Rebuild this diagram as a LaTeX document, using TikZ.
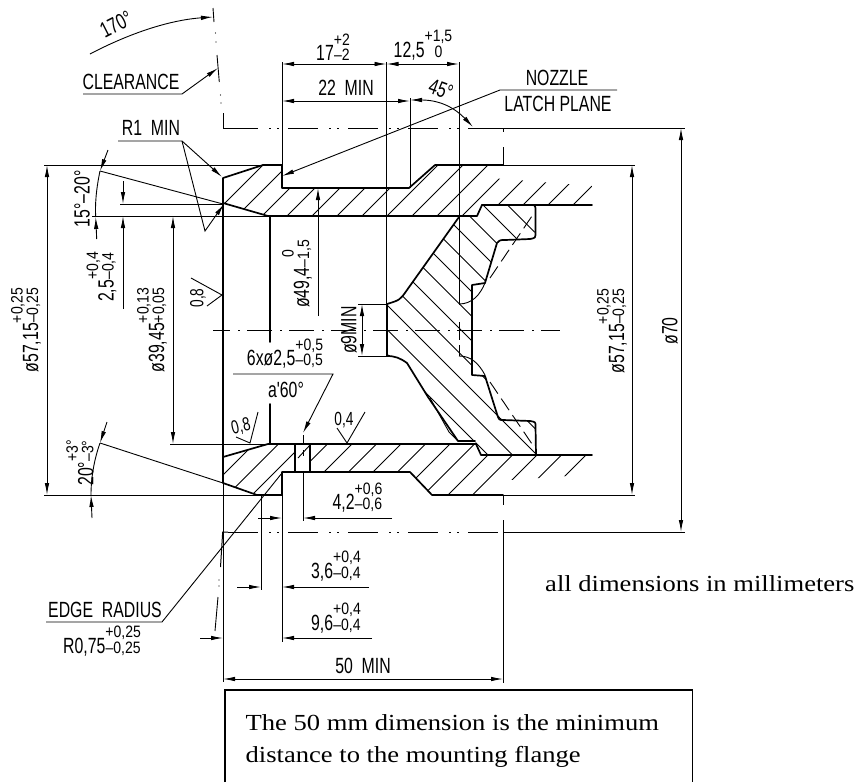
\documentclass[tikz,border=0pt]{standalone}
\usepackage{fontspec}
\usetikzlibrary{arrows.meta, calc}
\newfontfamily\dimfont[FakeStretch=0.72]{Liberation Sans}
\newfontfamily\tolfont[FakeStretch=0.85]{Liberation Sans}
\newfontfamily\notefont[FakeStretch=1.155]{Liberation Serif}
\newcommand{\tolsize}{\tolfont\fontsize{16.5}{15.5}\selectfont}
\newcommand{\tolval}[3]{#1\vbox{\tolsize\lineskiplimit=-20pt\baselineskip=15.5pt\halign{\hfil##\hfil\cr#2\cr#3\cr}}}
\tikzset{
	outline/.style={line width=1.7pt, line cap=round, line join=round},
	thinline/.style={line width=0.9pt},
	hatchline/.style={line width=0.9pt},
	dimline/.style={thinline, {Latex[length=12pt,width=4.5pt]}-{Latex[length=12pt,width=4.5pt]}},
	dimarrow/.style={thinline, -{Latex[length=12pt,width=4.5pt]}},
	phantomline/.style={line width=1pt, dash pattern=on 30pt off 11pt on 1.5pt off 6.5pt on 1.5pt off 9.5pt},
	axisline/.style={line width=0.9pt, dash pattern=on 25pt off 8pt on 2pt off 7pt},
	hiddenline/.style={line width=0.9pt, dash pattern=on 14pt off 6pt},
	dimlabel/.style={inner sep=0pt, font=\dimfont\fontsize{22}{24}\selectfont},
	roughlabel/.style={inner sep=0pt, font=\dimfont\fontsize{19}{20}\selectfont},
	notelabel/.style={inner sep=0pt, anchor=base west, font=\notefont\fontsize{23}{25}\selectfont}
}
\begin{document}
\begin{tikzpicture}[x=1pt, y=-1pt]
	\useasboundingbox (0,0) rectangle (859,782);

	% hatching of the outer wall
	\begin{scope}
		\clip (223,178) -- (263,165) -- (282,165) -- (282,188) -- (409,188) -- (435,165) -- (490,165) -- (492,178) -- (592,186) -- (592,205) -- (482,205) -- (477,216) -- (268,216) -- (223,203) -- cycle;
		\foreach \s in {428,453,...,778}{
			\draw[hatchline] (\s-100,100) -- (\s-260,260);
		}
	\end{scope}
	\begin{scope}
		\clip (223,457) -- (268,444) -- (295,444) -- (295,472) -- (282,472) -- (282,495) -- (257,495) -- (223,483) -- cycle;
		\foreach \s in {698,722.5,747}{
			\draw[hatchline] (\s-420,420) -- (\s-520,520);
		}
	\end{scope}
	\begin{scope}
		\clip (310,444) -- (476,444) -- (481,455) -- (592,455) -- (568,476) -- (495,481) -- (490,495) -- (432,495) -- (410,472) -- (310,472) -- cycle;
		\foreach \s in {771.5,796,820.5,845,869.5,894,918.5,943,967.5,992,1016.5,1041}{
			\draw[hatchline] (\s-420,420) -- (\s-520,520);
		}
	\end{scope}
	\draw[hatchline] (310,445) -- (298,458);
	% hatching of the inner part
	\begin{scope}
		\clip (482,205) -- (535,205) -- (535,232) -- (530,239) -- (505,240) -- (497,243) -- (485,283) -- (472,285) -- (472,375) -- (485,376) -- (497,414) -- (503,420) -- (530,421) -- (535,425) -- (536,455) -- (481,455) -- (475,441) -- (458,441) -- (428,397) -- (407,363) -- (398,357) -- (387,356) -- (387,304) -- (398,302) -- (407,290) -- (459,217) -- (477,217) -- cycle;
		\foreach \c in {-33,-57.5,-82,-106.5,-131,-155.5,-180,-204.5,-229,-253.5,-278,-302.5}{
			\draw[hatchline] (380,380+\c) -- (560,560+\c);
		}
	\end{scope}

	% outlines
	\draw[outline] (223,203) -- (268,216) -- (477,216) -- (482,205) -- (592,205);
	\draw[outline] (263,165) -- (223,178) -- (223,483) -- (257,495) -- (282,495) -- (282,472) -- (410,472) -- (432,495) -- (503,495);
	\draw[outline] (263,165) -- (282,165) -- (282,188) -- (409,188) -- (435,165) -- (503,165);
	\draw[outline] (223,457) -- (268,444) -- (476,444) -- (481,455) -- (592,455);
	\draw[outline] (295,444) -- (295,472) (310,444) -- (310,472);
	\draw[outline] (270,216) -- (270,342) (270,404) -- (270,444);
	\draw[outline] (459,217) -- (407,290) .. controls (400,300) .. (387,304) -- (387,356) .. controls (395,356) and (400,358) .. (407,363) -- (428,397) -- (458,441) -- (475,441);
	\draw[outline] (482,205) -- (532,205) .. controls (535,205) .. (535.5,208) -- (535.5,232) .. controls (535.5,238) .. (530,239) -- (505,240) .. controls (500,240) .. (497,243) -- (485,283) -- (472,285) -- (472,375) -- (485,376) -- (497,414) .. controls (499,420) .. (503,420) -- (530,421) .. controls (535.5,422) .. (535.5,426) -- (536,455);
	\draw[thinline] (430,398) -- (449,432) -- (458,441);
	\draw[thinline] (459,304) .. controls (472,304) and (480,295) .. (485,283);
	\draw[thinline] (459,356) .. controls (470,356) and (478,362) .. (485,375);
	\draw[hiddenline] (490,278) -- (532,216);
	\draw[hiddenline] (490,382) -- (532,444);

	% center lines
	\draw[axisline, dash phase=8pt] (213,330) -- (560,330);
	\draw[phantomline] (228,128) -- (473,128);
	\draw[phantomline] (228,532) -- (503,532);
	\draw[line width=1pt] (223,113) -- (223,128) -- (228,128);
	\draw[line width=1pt] (228,532) -- (222.7,532) -- (220.5,567);
	\draw[thinline] (213,8) -- (214,22) (217,55) -- (219.3,82) (218,597) -- (215,631);
	\foreach \y/\x in {33/215.5, 42/216, 95/220.5, 103/221, 580/219, 586/219}{
		\fill (\x,\y) circle[radius=0.6];
	}

	% extension lines
	\draw[thinline] (44,165) -- (282,165) (44,495) -- (282,495);
	\draw[thinline] (92,216) -- (268,216) (120,204) -- (223,204) (170,444) -- (268,444);
	\draw[thinline] (503,165) -- (635,165) (503,495) -- (635,495);
	\draw[thinline] (473,128) -- (685,128) (503,532) -- (685,532);
	\draw[thinline] (282,62) -- (282,165) (386.5,62) -- (386.5,304) (459,62) -- (459,305);
	\draw[thinline] (459,322) -- (459,340) (459,345) -- (459,356);
	\draw[thinline] (410,98) -- (410,188);
	\draw[thinline] (503,128) -- (503,132) (503,147) -- (503,165);
	\draw[thinline] (503,495) -- (503,505) (503,520) -- (503,683);
	\draw[thinline] (223,483) -- (223,682);
	\draw[thinline] (261,495) -- (261,590) (282,495) -- (282,642);
	\draw[thinline] (303,435) -- (303,445) (303,450) -- (303,456) (303,472) -- (303,521);
	\draw[thinline] (358,304) -- (387,304) (358,356) -- (387,356);

	% dimension lines
	\draw[dimline] (47,165) -- (47,495);
	\draw[dimline] (173,216) -- (173,444);
	\draw[dimline] (632,165) -- (632,495);
	\draw[dimline] (681,128) -- (681,532);
	\draw[dimline] (362,304) -- (362,356);
	\draw[dimline] (282,64) -- (386.5,64);
	\draw[dimline] (386.5,64) -- (459,64);
	\draw[dimline] (282,101) -- (410,101);
	\draw[dimline] (223,679) -- (503,679);
	\draw[dimarrow] (123,181) -- (123,204);
	\draw[dimarrow] (123,309) -- (123,216);
	\draw[dimarrow] (318,316) -- (318,188);
	\draw[dimarrow] (258,518) -- (282,518);
	\draw[dimarrow] (392,518) -- (303,518);
	\draw[dimarrow] (237,587) -- (261,587);
	\draw[dimarrow] (369,587) -- (282,587);
	\draw[dimarrow] (200,638) -- (223,638);
	\draw[dimarrow] (372,638) -- (282,638);
	\draw[dimline] (410,100) .. controls (440,100) and (455,108) .. (473,127);

	% angle arcs
	\draw[dimarrow] (90,54) .. controls (130,33) and (170,20) .. (213,17);
	\draw[dimarrow] (108,150) -- (100,171);
	\draw[thinline] (100,171) .. controls (96,190) and (95,205) .. (95.7,217);
	\draw[dimarrow] (96.7,239) -- (95.7,217);
	\draw[dimarrow] (107,422) -- (100,443);
	\draw[thinline] (100,443) .. controls (94,460) and (91,478) .. (91,495);
	\draw[dimarrow] (92,518) -- (91,495);
	\draw[thinline] (100,171) -- (223,204);
	\draw[thinline] (100,443) -- (223,483);

	% leaders
	\draw[dimarrow] (83,94) -- (182,94) -- (218,68);
	\draw[dimarrow] (118,141) -- (182,141) -- (222,177);
	\draw[dimarrow] (182,141) -- (205,231) -- (224,204);
	\draw[dimarrow] (617,90) -- (500,90) -- (282,176);
	\draw[dimarrow] (233,374) -- (333,374) -- (303,433);
	\draw[thinline] (46,622) -- (162,622) -- (282,473);

	% surface marks
	\draw[thinline] (191,278) -- (222,295) -- (207,306);
	\draw[thinline] (258,412) -- (250,443) -- (236,437);
	\draw[thinline] (365,412) -- (347,443) -- (337,428);

	% labels
	\node[dimlabel, rotate=27] (anglehead) at (116,24) {170°};
	\node[dimlabel] (clearance) at (131,82) {CLEARANCE};
	\node[dimlabel] (rmin) at (151,128) {R1\ \ MIN};
	\node[dimlabel, rotate=90] (angletop) at (82,199) {15°–20°};
	\node[dimlabel, rotate=90] (angletol) at (80,463) {\tolval{20°}{+3°}{–3°}};
	\node[dimlabel, rotate=90] (flangeleft) at (26,330) {\tolval{ø57,15}{+0,25}{–0,25}};
	\node[dimlabel, rotate=90] (chamfertol) at (101.5,277) {\tolval{2,5}{+0,4}{–0,4}};
	\node[dimlabel, rotate=90] (borediam) at (152,330) {\tolval{ø39,45}{+0,13}{+0,05}};
	\node[dimlabel, rotate=90] (latchdiam) at (297,274) {\tolval{ø49,4}{0}{–1,5}};
	\node[dimlabel, rotate=90] (portdiam) at (349,330) {ø9MIN};
	\node[dimlabel, rotate=90] (flangeright) at (612,331) {\tolval{ø57,15}{+0,25}{–0,25}};
	\node[dimlabel, rotate=90] (outerdiam) at (670,331) {ø70};
	\node[dimlabel] (widthtol) at (333,47) {\tolval{17}{+2}{–2}};
	\node[dimlabel] (stepwidth) at (423,45) {\tolval{12,5}{+1,5}{0}};
	\node[dimlabel] (latchmin) at (346,88) {22\ \ MIN};
	\node[dimlabel, rotate=-20] (slope) at (441,89) {45°};
	\node[dimlabel] (nozzle) at (557,78) {NOZZLE};
	\node[dimlabel] (latchplane) at (558,104) {LATCH PLANE};
	\node[dimlabel] (holes) at (285,353.5) {\tolval{6xø2,5}{+0,5}{–0,5}};
	\node[dimlabel] (holeangle) at (286,390) {a'60°};
	\node[roughlabel, rotate=90] (roughleft) at (198,298) {0,8};
	\node[roughlabel, rotate=13] (roughbore) at (241,427) {0,8};
	\node[roughlabel] (roughright) at (344,420) {0,4};
	\node[dimlabel] (holepos) at (357.5,497.5) {\tolval{4,2}{+0,6}{–0,6}};
	\node[dimlabel] (neckwidth) at (336,566) {\tolval{3,6}{+0,4}{–0,4}};
	\node[dimlabel] (neckpos) at (336,618) {\tolval{9,6}{+0,4}{–0,4}};
	\node[dimlabel] (edgeradius) at (105,610) {EDGE\ \ RADIUS};
	\node[dimlabel] (radiustol) at (102,641) {\tolval{R0,75}{+0,25}{–0,25}};
	\node[dimlabel] (flangemin) at (363,666) {50\ \ MIN};

	% note and frame
	\node[notelabel] (units) at (545,591) {all dimensions in millimeters};
	\draw[line width=1.3pt] (225,782) |- (692.5,690) -- (692.5,782);
	\node[notelabel] (noteone) at (245.5,730) {The 50 mm dimension is the minimum};
	\node[notelabel] (notetwo) at (245.5,762) {distance to the mounting flange};
\end{tikzpicture}
\end{document}
